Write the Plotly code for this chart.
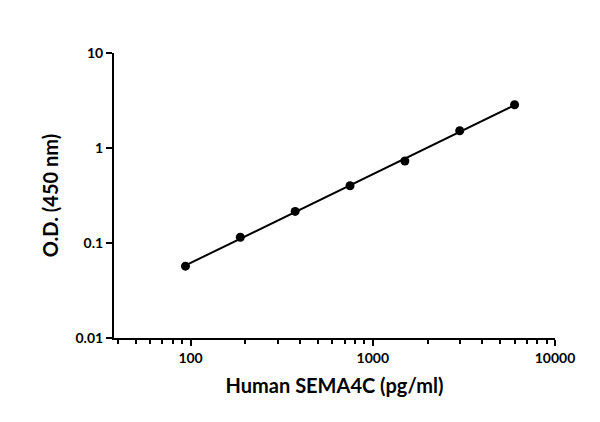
import plotly.graph_objects as go
import numpy as np

# standard curve data
conc = [93.75, 187.5, 375, 750, 1500, 3000, 6000]
od = [0.057, 0.115, 0.215, 0.40, 0.73, 1.52, 2.85]

# fitted line (log-log linear fit through points)
p = np.polyfit(np.log10(conc), np.log10(od), 1)
fx = np.array([conc[0], conc[-1]])
fy = 10 ** np.polyval(p, np.log10(fx))

fig = go.Figure()
fig.add_trace(go.Scatter(x=fx, y=fy, mode="lines",
                         line=dict(color="black", width=2), showlegend=False))
fig.add_trace(go.Scatter(x=conc, y=od, mode="markers",
                         marker=dict(color="black", size=9), showlegend=False))

axis_common = dict(
    type="log", showgrid=False, zeroline=False, automargin=False,
    showline=True, linecolor="black", linewidth=2,
    ticks="outside", tickcolor="black", tickwidth=2, ticklen=6,
    tickfont=dict(family="Lato", size=14, color="black", weight="bold"),
)

fig.update_layout(
    width=600, height=422,
    margin=dict(l=106, r=53, t=45, b=92),
    paper_bgcolor="white", plot_bgcolor="white",
    xaxis=dict(**axis_common, range=[np.log10(38), 4],
               tickvals=[100, 1000, 10000], ticktext=["100", "1000", "10000"],
               minor=dict(ticks="outside", ticklen=4, tickcolor="black", tickwidth=2,
                          showgrid=False,
                          tickvals=[40, 50, 60, 70, 80, 90, 200, 300, 400, 500, 600, 700, 800, 900,
                                    2000, 3000, 4000, 5000, 6000, 7000, 8000, 9000]),
               title=dict(text="Human SEMA4C (pg/ml)", standoff=14,
                          font=dict(family="Lato", size=20, color="black", weight="bold"))),
    yaxis=dict(**axis_common, range=[-2, 1],
               tickvals=[0.01, 0.1, 1, 10], ticktext=["0.01", "0.1", "1", "10"],
               title=dict(text="O.D. (450 nm)", standoff=12,
                          font=dict(family="Lato", size=20, color="black", weight="bold"))),
)

fig.write_html("out.html")
